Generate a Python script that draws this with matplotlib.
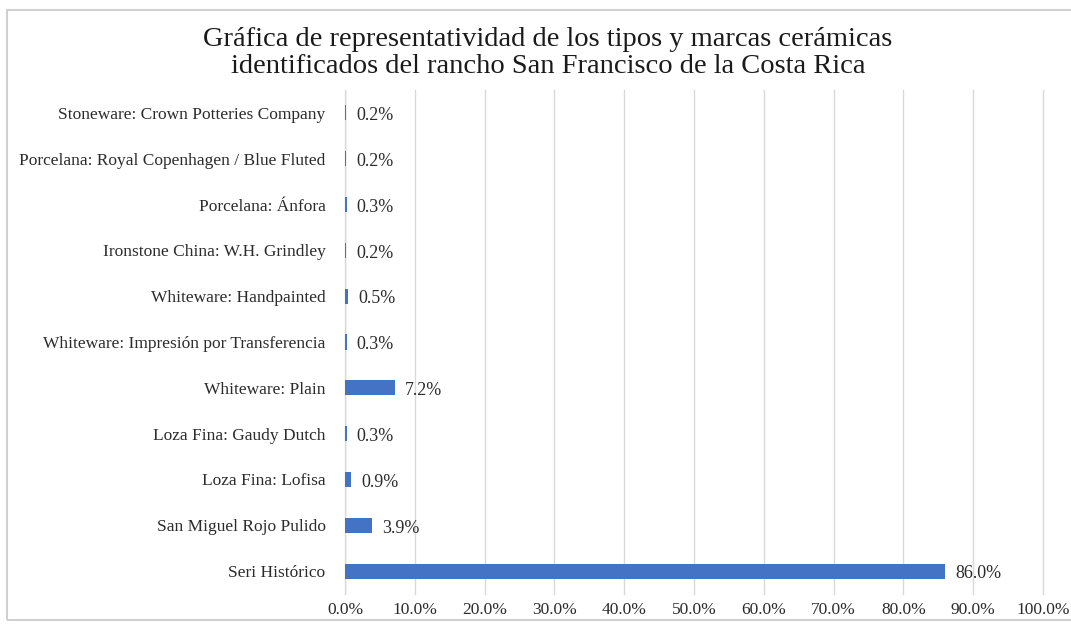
import matplotlib.pyplot as plt
from matplotlib.patches import Rectangle
from matplotlib.ticker import FuncFormatter

# categorías (de abajo hacia arriba) y porcentajes
categorias = [
    'Seri Histórico',
    'San Miguel Rojo Pulido',
    'Loza Fina: Lofisa',
    'Loza Fina: Gaudy Dutch',
    'Whiteware: Plain',
    'Whiteware: Impresión por Transferencia',
    'Whiteware: Handpainted',
    'Ironstone China: W.H. Grindley',
    'Porcelana: Ánfora',
    'Porcelana: Royal Copenhagen / Blue Fluted',
    'Stoneware: Crown Potteries Company',
]
porcentajes = [86.0, 3.9, 0.9, 0.3, 7.2, 0.3, 0.5, 0.2, 0.3, 0.2, 0.2]

plt.rcParams['font.family'] = ['Liberation Serif', 'DejaVu Serif']

fig = plt.figure(figsize=(10.71, 6.24), dpi=100)
ax = fig.add_axes([345 / 1071, 1 - 594 / 624, (1043 - 345) / 1071, (594 - 90) / 624])

# marco gris del gráfico
fig.patches.append(Rectangle((7 / 1071, 4 / 624), 1.2, 1 - 14 / 624,
                             transform=fig.transFigure, fill=False,
                             edgecolor='#d0d0d0', linewidth=1.5))

y = range(len(categorias))
ax.barh(y, porcentajes, height=0.33, color='#4472C4', zorder=3)

# etiquetas de datos
for i, v in enumerate(porcentajes):
    ax.annotate(f'{v:.1f}%', xy=(v, i), xytext=(7, -2), textcoords='offset points',
                ha='left', va='center', fontsize=13, color='#2b2b2b')

ax.set_xlim(0, 100)
ax.set_ylim(-0.5, len(categorias) - 0.5)
ax.set_xticks(range(0, 101, 10))
ax.xaxis.set_major_formatter(FuncFormatter(lambda v, p: f'{v:.1f}%'))
ax.set_yticks(list(y))
ax.set_yticklabels(categorias)
ax.tick_params(axis='both', length=0, labelsize=12.5, colors='#2b2b2b')
ax.tick_params(axis='y', pad=14)
ax.tick_params(axis='x', pad=6)
ax.grid(axis='x', color='#d9d9d9', linewidth=1, zorder=0)
for gl in ax.get_xgridlines():
    gl.set_clip_on(False)
for s in ax.spines.values():
    s.set_visible(False)
ax.axvline(0, color='#d0d0d0', linewidth=1, zorder=1)

fig.text(548 / 1071, 1 - 53 / 624,
         'Gráfica de representatividad de los tipos y marcas cerámicas\n'
         'identificados del rancho San Francisco de la Costa Rica',
         ha='center', va='center', fontsize=20.5, color='#1a1a1a', linespacing=1.12)

plt.savefig('out.png', dpi=100)
